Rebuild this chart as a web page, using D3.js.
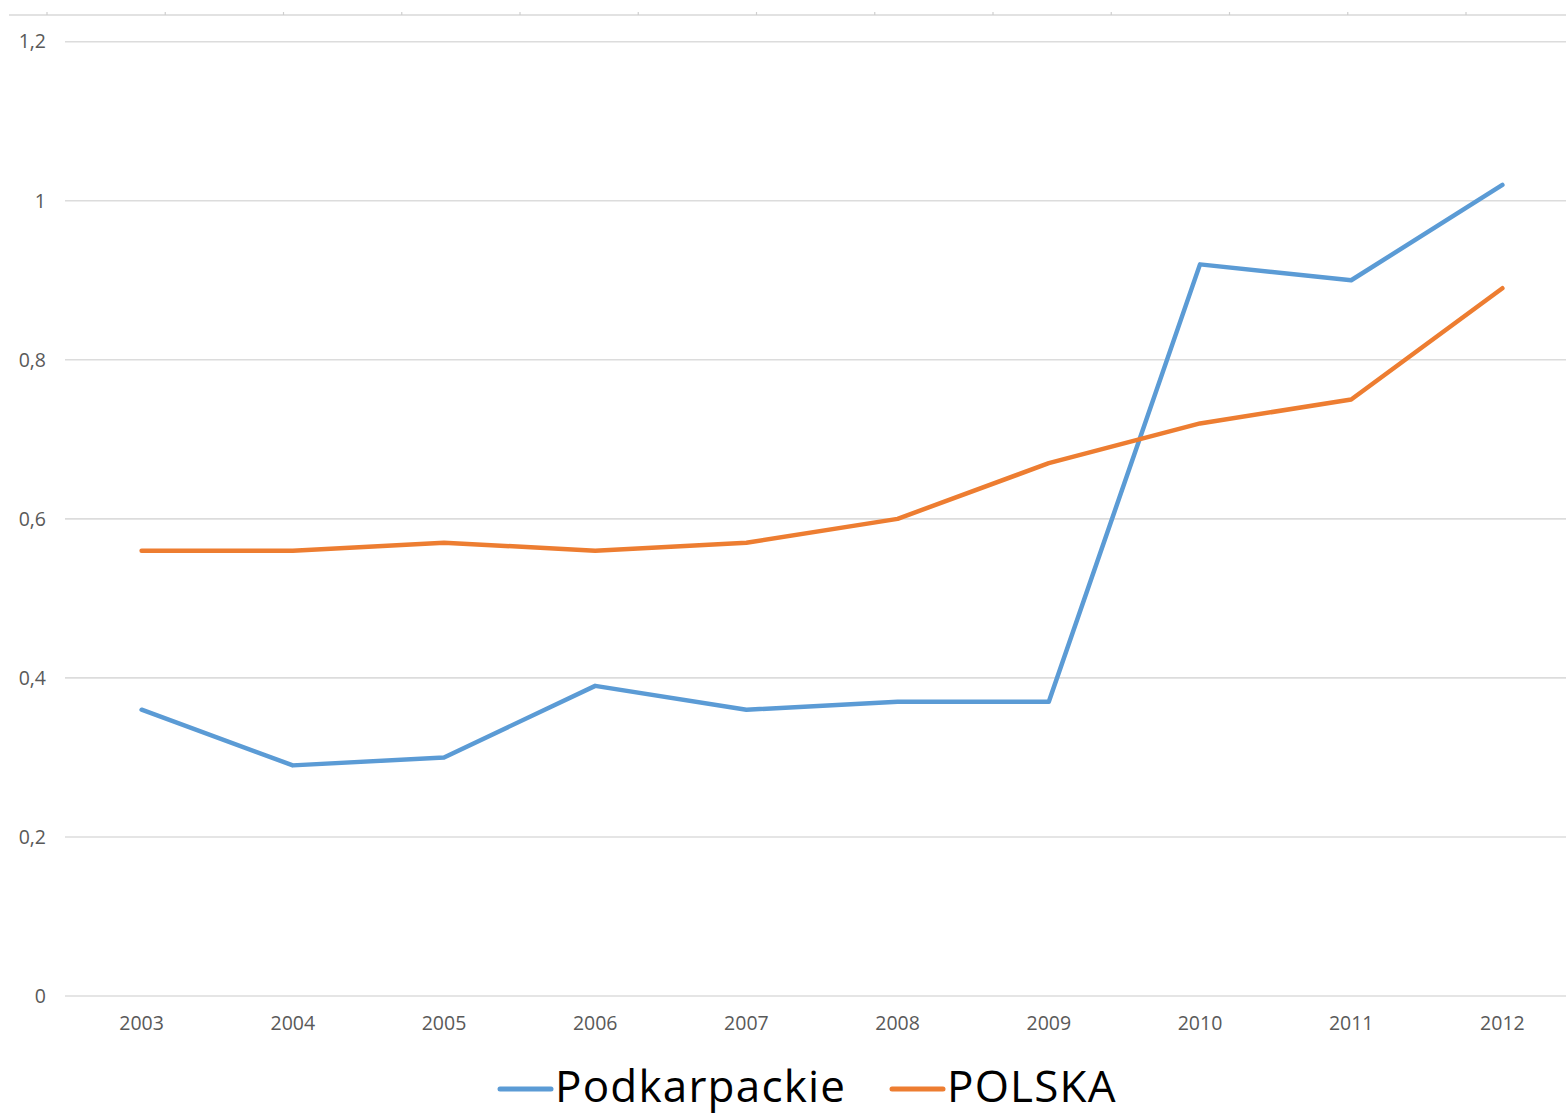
<!DOCTYPE html>
<html>
<head>
<meta charset="utf-8">
<script src="https://cdn.jsdelivr.net/npm/d3@7"></script>
<style>
  body { margin: 0; background: #fff; }
  svg { display: block; }
</style>
</head>
<body>
<script>
// years on the category axis
const years = ['2003','2004','2005','2006','2007','2008','2009','2010','2011','2012'];

// values
const podkarpackie = [0.36, 0.29, 0.30, 0.39, 0.36, 0.37, 0.37, 0.92, 0.90, 1.02];
const polska       = [0.56, 0.56, 0.57, 0.56, 0.57, 0.60, 0.67, 0.72, 0.75, 0.89];

const yTicks = [0, 0.2, 0.4, 0.6, 0.8, 1, 1.2];
const yTickLabels = ['0', '0,2', '0,4', '0,6', '0,8', '1', '1,2'];

// leftover axis of a chart above this one (cut off at the top of the picture)
const topAxisTicks = [0,1,2,3,4,5,6,7,8,9,10,11,12];

const seriesNames = ['Podkarpackie', 'POLSKA'];
const colors = ['#5B9BD5', '#ED7D31'];

const width = 1566, height = 1114;

const svg = d3.select('body').append('svg')
    .attr('width', width)
    .attr('height', height);

svg.append('rect').attr('width', width).attr('height', height).attr('fill', '#fff');

// x is a band scale, one band per year
const x = d3.scaleBand()
    .domain(years)
    .range([66, 1578]);

const y = d3.scaleLinear()
    .domain([0, 1.2])
    .range([996, 41.7]);

// faint axis at the very top
const xTop = d3.scaleLinear().domain([0, 12]).range([47, 1466]);
svg.append('line')
    .attr('x1', 9).attr('x2', width)
    .attr('y1', 15).attr('y2', 15)
    .attr('stroke', '#d9d9d9').attr('stroke-width', 1.5);
svg.append('g')
    .selectAll('line')
    .data(topAxisTicks)
    .enter()
    .append('line')
    .attr('x1', d => xTop(d)).attr('x2', d => xTop(d))
    .attr('y1', 12).attr('y2', 15)
    .attr('stroke', '#cfcfcf').attr('stroke-width', 1.2);

// horizontal gridlines
svg.append('g')
    .selectAll('line')
    .data(yTicks)
    .enter()
    .append('line')
    .attr('x1', 65).attr('x2', width)
    .attr('y1', d => y(d)).attr('y2', d => y(d))
    .attr('stroke', '#dcdcdc')
    .attr('stroke-width', 1.6);

// y labels
const yAxis = svg.append('g')
    .attr('transform', 'translate(46,0)')
    .call(d3.axisLeft(y).tickValues(yTicks).tickSize(0).tickPadding(0)
        .tickFormat((d, i) => yTickLabels[i]));
yAxis.select('.domain').remove();
yAxis.selectAll('text')
    .attr('font-family', '"Open Sans", sans-serif')
    .attr('font-size', 19.5)
    .attr('fill', '#595959');

// x labels
const xAxis = svg.append('g')
    .attr('transform', 'translate(0,996)')
    .call(d3.axisBottom(x).tickSize(0).tickPadding(20));
xAxis.select('.domain').remove();
xAxis.selectAll('text')
    .attr('font-family', '"Open Sans", sans-serif')
    .attr('font-size', 19.5)
    .attr('fill', '#595959');

const line = d3.line()
    .x((d, i) => x(years[i]) + x.bandwidth() / 2)
    .y(d => y(d));

[podkarpackie, polska].forEach(function(vals, k) {
    svg.append('path')
        .datum(vals)
        .attr('d', line)
        .attr('fill', 'none')
        .attr('stroke', colors[k])
        .attr('stroke-width', 4.5)
        .attr('stroke-linejoin', 'round')
        .attr('stroke-linecap', 'round');
});

// legend
const legendX = [500, 892];
const legend = svg.append('g');
seriesNames.forEach(function(name, k) {
    legend.append('line')
        .attr('x1', legendX[k]).attr('x2', legendX[k] + 51)
        .attr('y1', 1089).attr('y2', 1089)
        .attr('stroke', colors[k])
        .attr('stroke-width', 5)
        .attr('stroke-linecap', 'round');
    legend.append('text')
        .attr('x', legendX[k] + 55)
        .attr('y', 1102)
        .attr('font-family', '"Open Sans", sans-serif')
        .attr('font-size', 44)
        .attr('letter-spacing', 1.2)
        .attr('fill', '#000')
        .text(name);
});
</script>
</body>
</html>
